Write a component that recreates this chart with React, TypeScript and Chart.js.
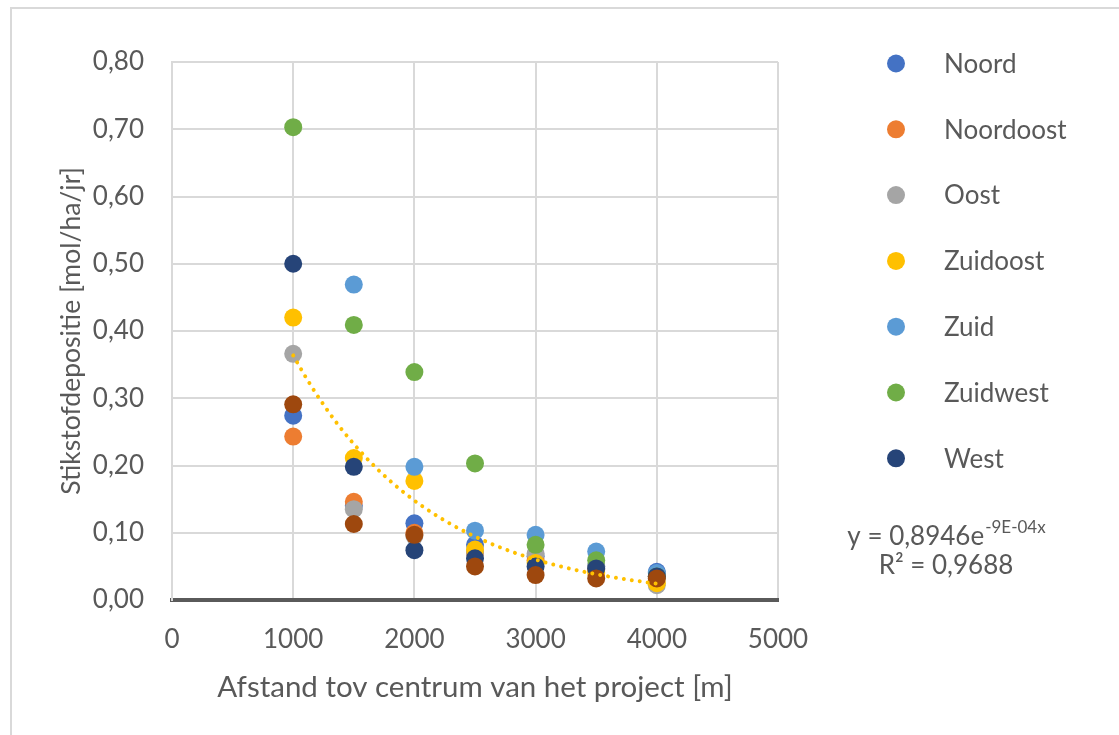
import React, { useEffect, useRef } from "react";
import { Chart, registerables } from "chart.js";

Chart.register(...registerables);

// ---- data ----
const distances = [1000, 1500, 2000, 2500, 3000, 3500, 4000];
const noord = [0.274, 0.14, 0.114, 0.082, 0.065, 0.05, 0.042];
const noordoost = [0.243, 0.146, 0.1, 0.07, 0.059, 0.045, 0.035];
const oost = [0.366, 0.135, 0.095, 0.072, 0.069, 0.05, 0.022];
const zuidoost = [0.42, 0.211, 0.177, 0.075, 0.055, 0.04, 0.025];
const zuid = [null, 0.469, 0.198, 0.103, 0.097, 0.072, 0.04];
const zuidwest = [0.703, 0.409, 0.339, 0.203, 0.082, 0.059, 0.035];
const west = [0.5, 0.198, 0.074, 0.062, 0.05, 0.047, 0.035];
const noordwest = [0.291, 0.113, 0.097, 0.05, 0.037, 0.032, 0.032];

const seriesNames = ["Noord", "Noordoost", "Oost", "Zuidoost", "Zuid", "Zuidwest", "West", "Noordwest"];
const seriesValues = [noord, noordoost, oost, zuidoost, zuid, zuidwest, west, noordwest];
const seriesColors = ["#4472C4", "#ED7D31", "#A5A5A5", "#FFC000", "#5B9BD5", "#70AD47", "#264478", "#9E480E"];
const legendCount = 7; // Noordwest not in legend

// exponential trendline shown on chart: y = 0,8946e^(-9E-04x)
const TREND_A = 0.8946;
const TREND_B = -0.0009;
const TREND_FROM = 1000;
const TREND_TO = 4000;
const trendEquation = "y = 0,8946e";
const trendExponent = "-9E-04x";
const trendR2 = "R\u00B2 = 0,9688";

const xTicks = [0, 1000, 2000, 3000, 4000, 5000];

const xTitle = "Afstand tov centrum van het project [m]";
const yTitle = "Stikstofdepositie [mol/ha/jr]";

const TEXT = "#595959";
const GRID = "#d9d9d9";
const FONT = "Lato, 'Open Sans', sans-serif";

const overlayPlugin = {
  id: "overlay",
  afterDraw(chart: any) {
    const ctx = chart.ctx;
    const area = chart.chartArea;
    ctx.save();
    const markerX = area.right + 118;
    const textX = area.right + 166;
    const top = 63.5;
    const step = 65.8;
    for (let i = 0; i < legendCount; i++) {
      const y = top + i * step;
      ctx.beginPath();
      ctx.arc(markerX, y, 9, 0, Math.PI * 2);
      ctx.fillStyle = seriesColors[i];
      ctx.fill();
      ctx.fillStyle = TEXT;
      ctx.font = `26px ${FONT}`;
      ctx.textAlign = "left";
      ctx.textBaseline = "middle";
      ctx.fillText(seriesNames[i], textX, y + 1);
    }
    // equation
    const cx = area.right + 168;
    ctx.font = `26px ${FONT}`;
    const w1 = ctx.measureText(trendEquation).width;
    ctx.font = `17px ${FONT}`;
    const w2 = ctx.measureText(trendExponent).width;
    const left = cx - (w1 + w2) / 2;
    ctx.textAlign = "left";
    ctx.textBaseline = "alphabetic";
    ctx.fillStyle = TEXT;
    ctx.font = `26px ${FONT}`;
    ctx.fillText(trendEquation, left, 545);
    ctx.font = `17px ${FONT}`;
    ctx.fillText(trendExponent, left + w1 + 1, 533);
    ctx.font = `26px ${FONT}`;
    ctx.textAlign = "center";
    ctx.fillText(trendR2, cx, 574);
    ctx.restore();
  },
};

export default function App() {
  const ref = useRef<HTMLCanvasElement | null>(null);

  useEffect(() => {
    if (!ref.current) return;
    const n = seriesNames.length;
    const scatterSets = seriesNames.map((name, i) => ({
      label: name,
      data: distances
        .map((d, j) => ({ x: d, y: seriesValues[i][j] }))
        .filter((p) => p.y !== null),
      backgroundColor: seriesColors[i],
      borderColor: seriesColors[i],
      pointRadius: 9,
      pointHoverRadius: 9,
      pointBorderWidth: 0,
      order: n - i,
    }));
    const trendData: { x: number; y: number }[] = [];
    for (let x = TREND_FROM; x <= TREND_TO; x += 50) {
      trendData.push({ x, y: TREND_A * Math.exp(TREND_B * x) });
    }
    const trendSet: any = {
      type: "line",
      label: "Trend",
      data: trendData,
      showLine: true,
      borderColor: "#FFC000",
      borderWidth: 4,
      borderDash: [0.01, 8],
      borderCapStyle: "round",
      pointRadius: 0,
      pointHoverRadius: 0,
      fill: false,
      tension: 0,
      order: -100,
    };

    const chart = new Chart(ref.current, {
      type: "scatter",
      data: { datasets: [...scatterSets, trendSet] as any },
      options: {
        animation: false,
        responsive: true,
        maintainAspectRatio: false,
        layout: { padding: { left: 0, right: 341, top: 62, bottom: 0 } },
        plugins: { legend: { display: false }, tooltip: { enabled: false } },
        scales: {
          x: {
            type: "linear",
            min: xTicks[0],
            max: xTicks[xTicks.length - 1],
            afterBuildTicks: (s: any) => {
              s.ticks = xTicks.map((v) => ({ value: v }));
            },
            ticks: {
              color: TEXT,
              font: { family: FONT, size: 26 },
              padding: 24,
              callback: (v: any) => String(v),
            },
            grid: { color: GRID, lineWidth: 2, drawTicks: false },
            border: { color: "#5a5a5a", width: 4 },
            title: {
              display: true,
              text: xTitle,
              color: TEXT,
              font: { family: FONT, size: 29.5 },
              padding: { top: 0, bottom: 30 },
            },
            afterFit: (s: any) => {
              s.height = 135;
            },
          },
          y: {
            type: "linear",
            min: 0,
            max: 0.8,
            ticks: {
              stepSize: 0.1,
              color: TEXT,
              font: { family: FONT, size: 26 },
              padding: 28,
              callback: (v: any) => Number(v).toFixed(2).replace(".", ","),
            },
            grid: { color: GRID, lineWidth: 2, drawTicks: false },
            border: { color: GRID, width: 2 },
            title: {
              display: true,
              text: yTitle,
              color: TEXT,
              font: { family: FONT, size: 26.5 },
              padding: { top: 56, bottom: 0 },
            },
            afterFit: (s: any) => {
              s.width = 172;
            },
          },
        },
      },
      plugins: [overlayPlugin],
    });
    return () => chart.destroy();
  }, []);

  return (
    <div
      style={{
        position: "fixed",
        left: 0,
        top: 0,
        width: 1119,
        height: 735,
        background: "#fff",
        overflow: "hidden",
      }}
    >
      <div
        style={{
          position: "absolute",
          left: 10,
          top: 7,
          width: 2000,
          height: 2000,
          border: "2px solid #d9d9d9",
        }}
      />
      <div style={{ position: "absolute", left: 0, top: 0, width: 1119, height: 735 }}>
        <canvas ref={ref} />
      </div>
    </div>
  );
}
